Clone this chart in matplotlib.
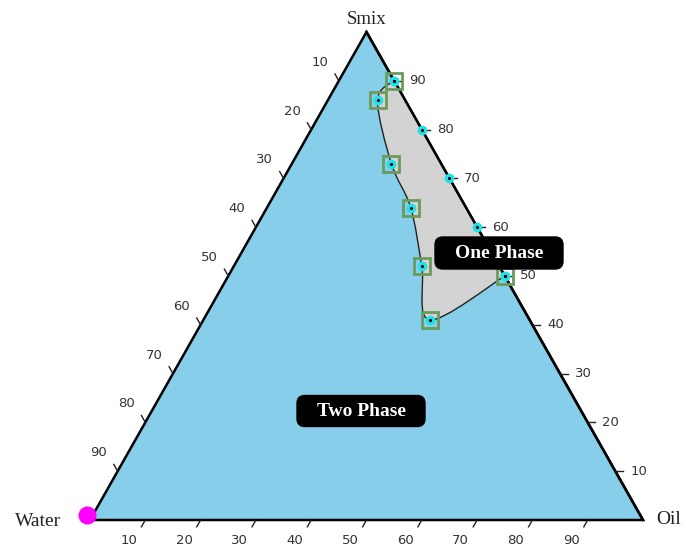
import numpy as np
import matplotlib
matplotlib.use("Agg")
import matplotlib.pyplot as plt
from matplotlib.patches import Polygon, FancyBboxPatch, PathPatch
from matplotlib.path import Path

# titration points on the Oil-Smix edge (water = 0)
edge_smix = [90, 80, 70, 60, 50]
edge_oil = [10, 20, 30, 40, 50]

# points bounding the one-phase region (Smix, Oil, Water in %)
bound_smix = [90, 86, 73, 64, 52, 41, 50]
bound_oil = [10, 9, 18, 26, 34, 41, 50]
bound_water = [0, 5, 9, 10, 14, 18, 0]

tick_values = [10, 20, 30, 40, 50, 60, 70, 80, 90]

SQ3 = np.sqrt(3) / 2
PX, PY = 5.53, 5.635  # pixels per percent unit


def tern(smix, oil):
    smix = np.asarray(smix, dtype=float)
    oil = np.asarray(oil, dtype=float)
    return oil + smix / 2, smix * SQ3


fig = plt.figure(figsize=(6.86, 5.50), dpi=100)
ax = fig.add_axes([0, 0, 1, 1])
ax.set_xlim(-90 / PX, (686 - 90) / PX)
ax.set_ylim((520 - 550) / PY, 520 / PY)
ax.axis("off")

# whole diagram = two phase
tri = Polygon([[0, 0], [100, 0], [50, 100 * SQ3]], closed=True,
              facecolor="#87CEEB", edgecolor="black", lw=1.8, zorder=1)
ax.add_patch(tri)

# one phase region: smooth curve through boundary points, then back along edge
bx, by = tern(bound_smix, bound_oil)
ex, ey = tern(edge_smix, edge_oil)
pts = np.column_stack([bx, by])
ext = np.vstack([pts[0], pts, pts[-1]])
verts = [pts[0]]
codes = [Path.MOVETO]
for i in range(1, len(ext) - 2):
    p0, p1, p2, p3 = ext[i - 1], ext[i], ext[i + 1], ext[i + 2]
    verts += [p1 + (p2 - p0) / 6, p2 - (p3 - p1) / 6, p2]
    codes += [Path.CURVE4] * 3
for x, y in zip(ex[1:], ey[1:]):
    verts.append([x, y])
    codes.append(Path.LINETO)
verts.append(pts[0])
codes.append(Path.CLOSEPOLY)
ax.add_patch(PathPatch(Path(verts, codes), facecolor="#d3d3d3",
                       edgecolor="#222222", lw=1.0, zorder=2))
ax.plot([100, 50], [0, 100 * SQ3], color="black", lw=1.8, zorder=3)

# markers
ax.plot(ex, ey, "o", color="#22e0e8", ms=7, mec="none", zorder=4)
ax.plot(bx, by, "s", mfc="none", mec="#6a9a5c", mew=2, ms=11, zorder=5)
ax.plot(bx, by, "o", color="#22e0e8", ms=7, mec="none", zorder=4)
ax.plot(np.r_[bx, ex], np.r_[by, ey], ".", color="black", ms=2.5, zorder=6)

# water vertex marker
ax.plot([-0.5], [0.8], "o", color="#ff00ff", ms=13, mec="none", zorder=6)

tick_kw = dict(fontsize=9.5, color="#333333", family="DejaVu Sans")
tl = 1.4
for v in tick_values:
    # bottom axis (oil)
    x0, y0 = v, 0
    ax.plot([x0, x0 - tl * 0.5], [y0, y0 - tl * SQ3], color="#222222", lw=1, zorder=3)
    ax.text(x0 - 3.0, y0 - 3.6, str(v), ha="center", va="center", **tick_kw)
    # left axis (water)
    x0, y0 = tern(100 - v, 0)
    ax.plot([x0, x0 - tl * 0.5], [y0, y0 + tl * SQ3], color="#222222", lw=1, zorder=3)
    ax.text(x0 - 3.4, y0 + 3.3, str(v), ha="center", va="center", **tick_kw)
    # right axis (smix)
    x0, y0 = tern(v, 100 - v)
    ax.plot([x0, x0 + tl], [y0, y0], color="#222222", lw=1, zorder=3)
    ax.text(x0 + 4.2, y0, str(v), ha="center", va="center", **tick_kw)

serif = "Liberation Serif"
ax.text(50, 100 * SQ3 + 2.2, "Smix", ha="center", va="center",
        fontsize=13.5, family=serif, color="#222222")
ax.text(-9.4, -0.3, "Water", ha="center", va="center",
        fontsize=14, family=serif, color="#222222")
ax.text(104.6, 0, "Oil", ha="center", va="center",
        fontsize=14, family=serif, color="#222222")


def label_box(cx, cy, w, h, text):
    # cx, cy, w, h in pixels
    x = (cx - 90) / PX
    y = (520 - cy) / PY
    ax.add_patch(FancyBboxPatch((x - w / 2 / PX, y - h / 2 / PY), w / PX, h / PY,
                                boxstyle="round,pad=0,rounding_size=1.4",
                                facecolor="black", edgecolor="black", zorder=7))
    ax.text(x, y - 0.1, text, ha="center", va="center", fontsize=14,
            fontweight="bold", family=serif, color="white", zorder=8)


label_box(499, 253, 128, 32, "One Phase")
label_box(361, 411, 128, 31, "Two Phase")

fig.savefig("out.png", dpi=100)
